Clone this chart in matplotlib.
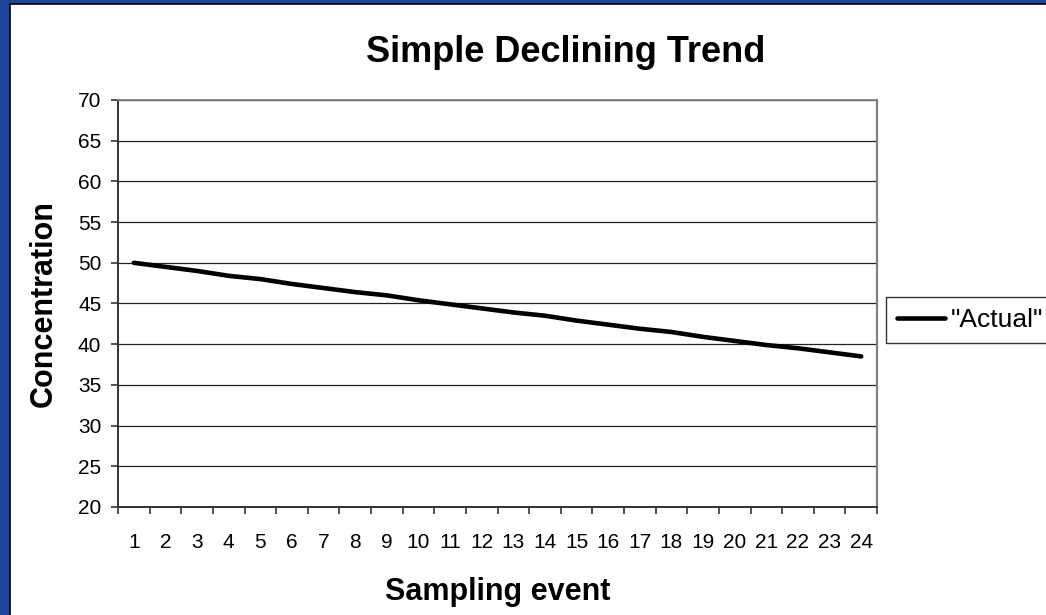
import matplotlib
matplotlib.use("Agg")
import matplotlib.pyplot as plt
from matplotlib.patches import Rectangle
import numpy as np

events = list(range(1, 25))
actual = [50.0, 49.5, 49.0, 48.4, 48.0, 47.4, 46.9, 46.4, 46.0, 45.4, 44.9, 44.4,
          43.9, 43.5, 42.9, 42.4, 41.9, 41.5, 40.9, 40.4, 39.9, 39.5, 39.0, 38.5]
y_ticks = [20, 25, 30, 35, 40, 45, 50, 55, 60, 65, 70]
title = "Simple Declining Trend"
series_name = '"Actual"'

plt.rcParams['font.family'] = ['Liberation Sans', 'DejaVu Sans']

W, H = 1046, 615
fig = plt.figure(figsize=(W / 100, H / 100), dpi=100)
fig.patch.set_facecolor('#1c449c')

# white inner panel with black edge
fig.patches.append(Rectangle((10 / W, -0.1), 1.2, 1.1 - 4 / H, transform=fig.transFigure,
                             facecolor='white', edgecolor='black', linewidth=1.2, zorder=-5))

left, right, top, bottom = 118, 877, 100, 507
ax = fig.add_axes([left / W, 1 - bottom / H, (right - left) / W, (bottom - top) / H])
ax.set_zorder(5)
ax.set_facecolor('white')

x = np.arange(len(events))
line, = ax.plot(x, actual, color='black', linewidth=3.3, solid_capstyle='round',
                label=series_name, zorder=3)

ax.set_xlim(-0.5, len(events) - 0.5)
ax.set_ylim(y_ticks[0], y_ticks[-1])
ax.set_yticks(y_ticks)
ax.set_yticklabels([str(v) for v in y_ticks], fontsize=15)
ax.yaxis.grid(True, color='#222222', linewidth=0.9)
ax.set_axisbelow(True)

ax.set_xticks(x)
ax.set_xticklabels([str(e) for e in events], fontsize=15)
ax.tick_params(axis='x', length=0, pad=19)
ax.set_xticks(np.arange(-0.5, len(events)), minor=True)
ax.tick_params(axis='x', which='minor', length=5, width=1.2, direction='out', color='#333333')
ax.tick_params(axis='y', length=5, width=1.2, direction='out', pad=7, color='#333333')

for s in ['left', 'bottom']:
    ax.spines[s].set_color('#333333')
    ax.spines[s].set_linewidth(1.4)
ax.spines['top'].set_color('#808080')
ax.spines['right'].set_color('#808080')
ax.spines['top'].set_linewidth(1.2)
ax.spines['right'].set_linewidth(1.6)

ax.set_ylabel('Concentration', fontsize=22, fontweight='bold')
ax.yaxis.set_label_coords(-(118 - 44) / (right - left), 0.5)
ax.set_xlabel('Sampling event', fontsize=22, fontweight='bold')
ax.xaxis.set_label_coords(0.5, -(592 - 507) / (bottom - top))
ax.xaxis.label.set_va('center')
ax.yaxis.label.set_va('center')

fig.text(566 / W, 1 - 53 / H, title, fontsize=26, fontweight='bold', ha='center', va='center')

leg = fig.legend(handles=[line], loc='center left', bbox_to_anchor=(886 / W, 1 - 320 / H),
                 fontsize=19, frameon=True, fancybox=False, handlelength=1.85,
                 handletextpad=0.22, borderpad=0.4, borderaxespad=0)
leg.get_frame().set_edgecolor('black')
leg.get_frame().set_linewidth(1.0)

fig.savefig('out.png', dpi=100, facecolor=fig.get_facecolor())
